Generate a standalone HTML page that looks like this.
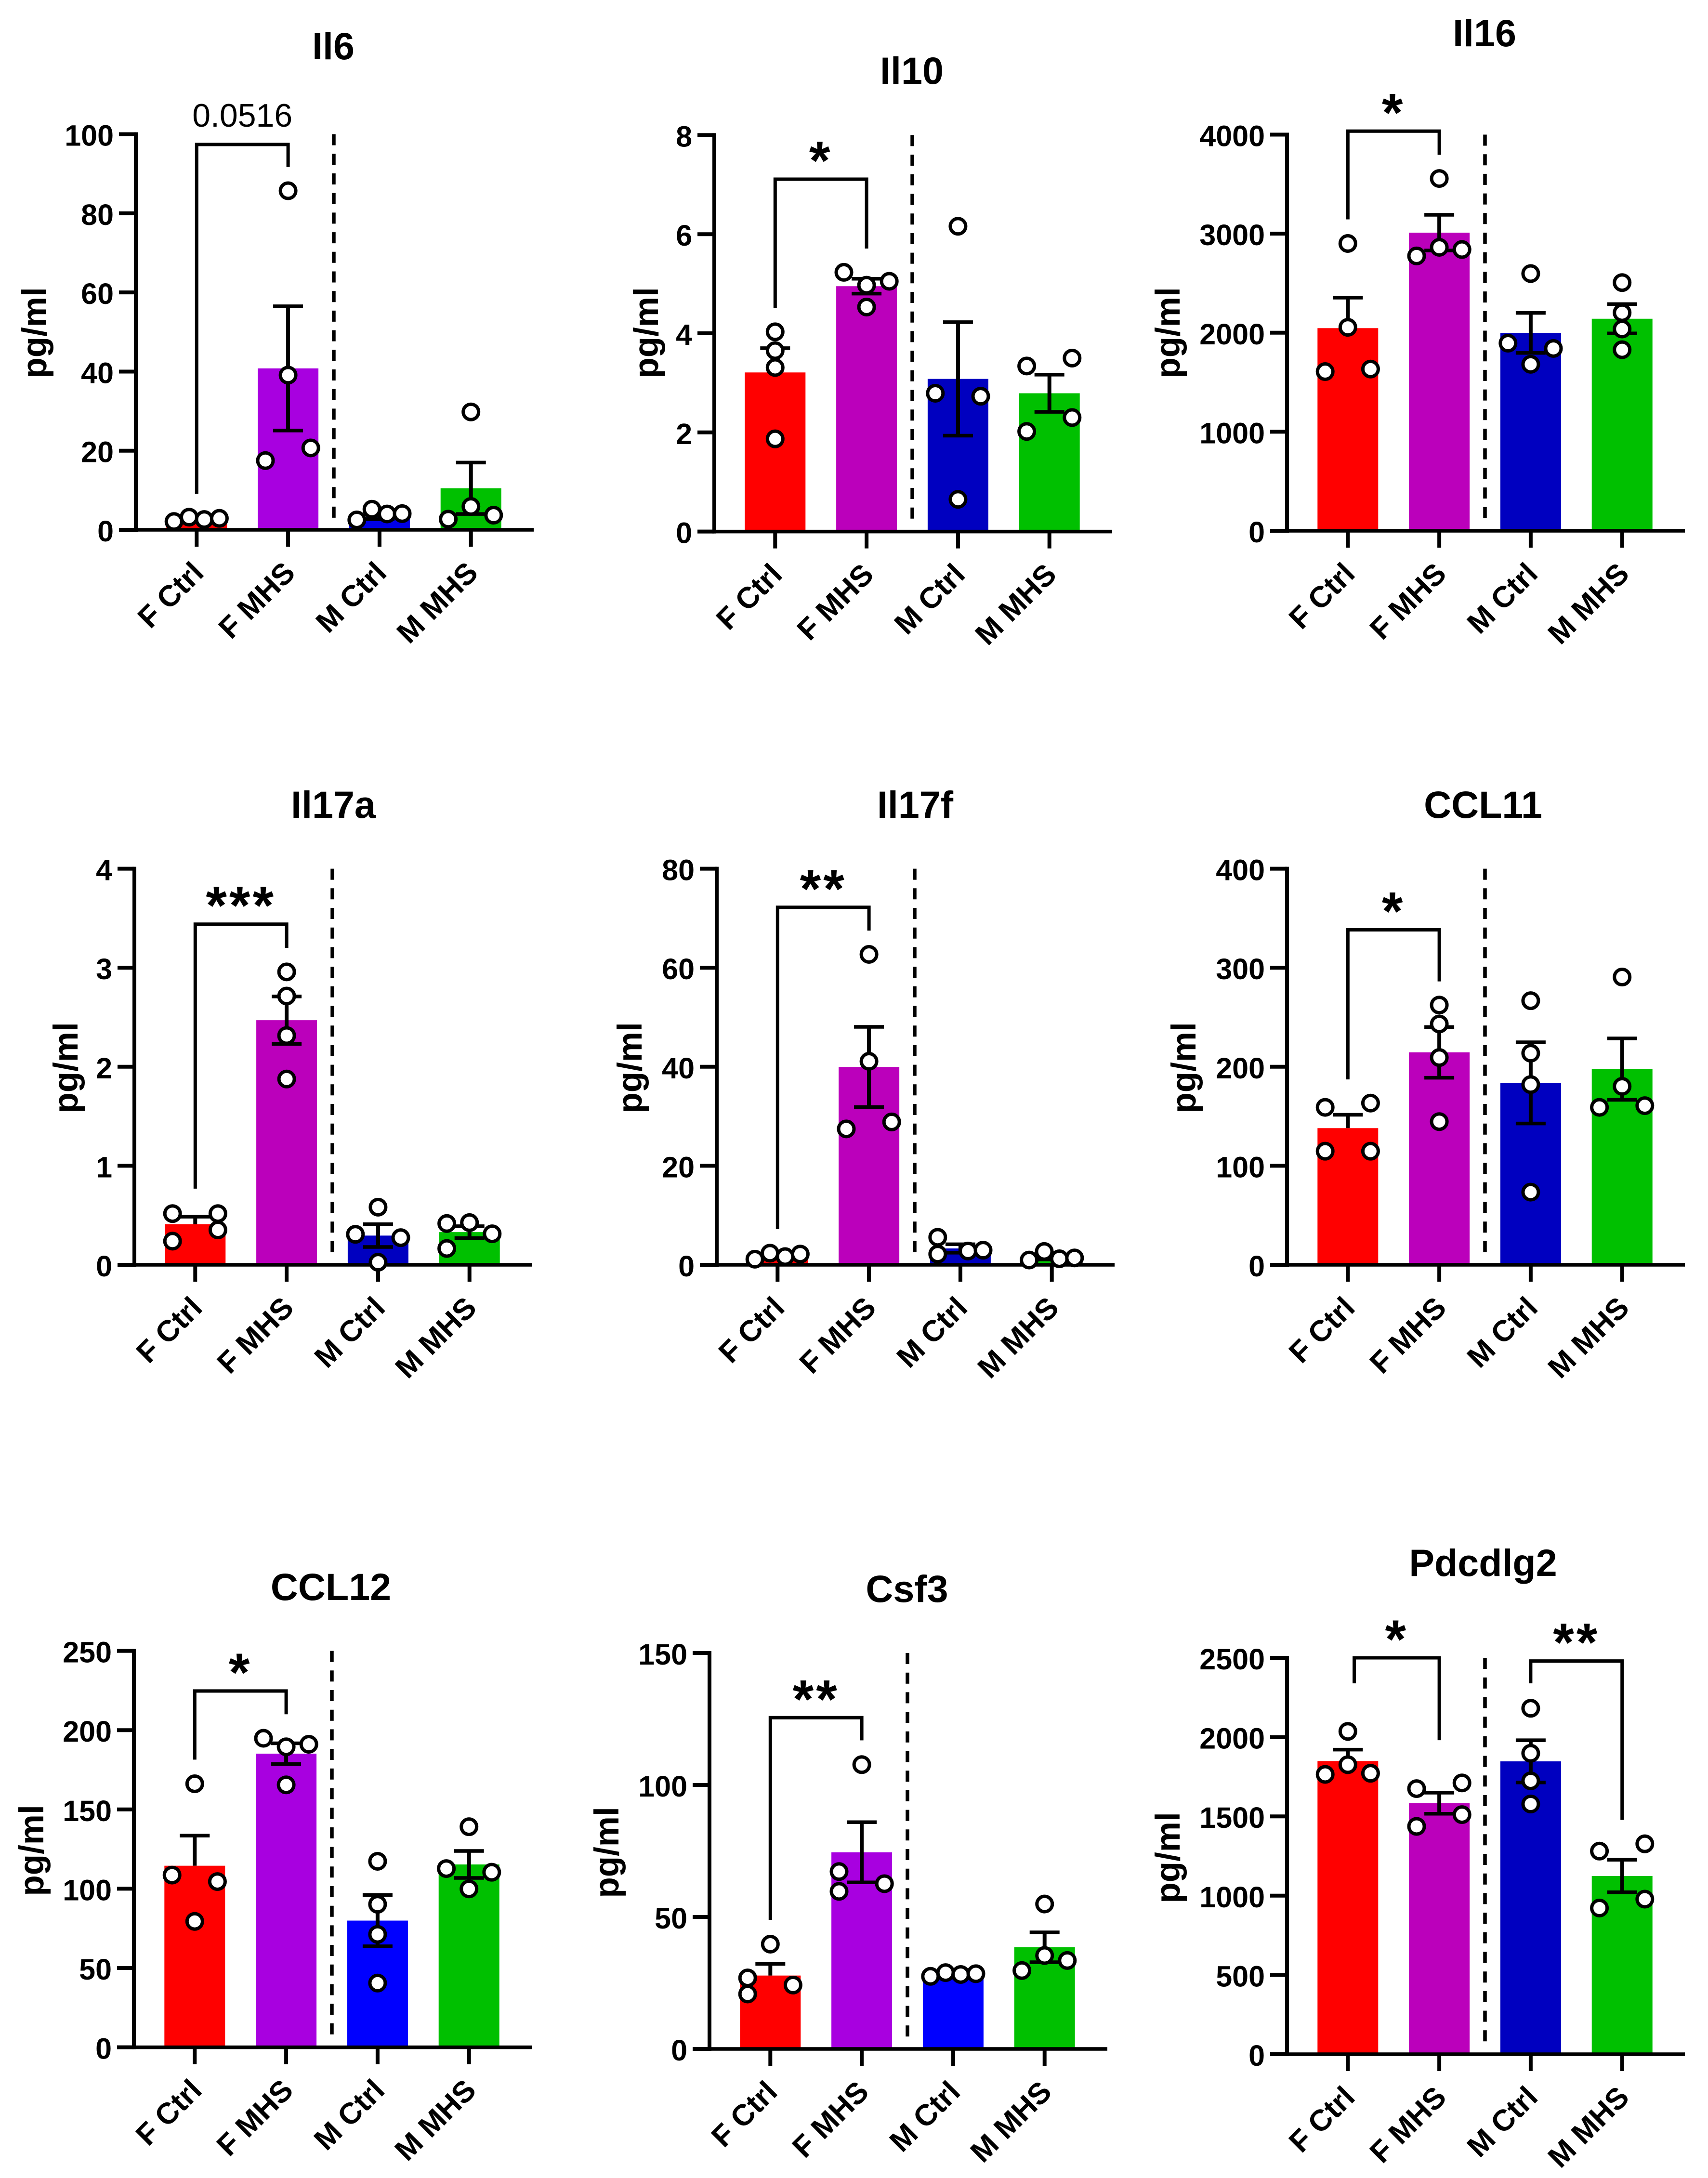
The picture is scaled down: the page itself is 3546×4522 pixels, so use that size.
<!DOCTYPE html>
<html lang="en">
<head>
<meta charset="utf-8">
<title>Cytokine bar charts</title>
<style>
html,body{margin:0;padding:0;background:#fff;}
svg{display:block;}
text{font-family:"Liberation Sans",Arial,sans-serif;fill:#000;font-weight:700;}
.title{font-size:79px;text-anchor:middle;}
.ytitle{font-size:71px;text-anchor:middle;}
</style>
</head>
<body>
<svg id="figure" xmlns="http://www.w3.org/2000/svg" width="3546" height="4522" viewBox="0 0 3546 4522">
<rect width="3546" height="4522" fill="#fff"/>
<g id="il6">
  <text class="title" x="692" y="123">Il6</text>
  <text class="ytitle" transform="translate(96 691) rotate(-90)">pg/ml</text>
</g>
<g id="il10">
  <text class="title" x="1893" y="174">Il10</text>
  <text class="ytitle" transform="translate(1366 691) rotate(-90)">pg/ml</text>
</g>
<g id="il16">
  <text class="title" x="3082" y="96">Il16</text>
  <text class="ytitle" transform="translate(2449 691) rotate(-90)">pg/ml</text>
</g>
<g id="il17a">
  <text class="title" x="692" y="1698">Il17a</text>
  <text class="ytitle" transform="translate(161 2217) rotate(-90)">pg/ml</text>
</g>
<g id="il17f">
  <text class="title" x="1900" y="1698">Il17f</text>
  <text class="ytitle" transform="translate(1332 2217) rotate(-90)">pg/ml</text>
</g>
<g id="ccl11">
  <text class="title" x="3079" y="1698">CCL11</text>
  <text class="ytitle" transform="translate(2482 2217) rotate(-90)">pg/ml</text>
</g>
<g id="ccl12">
  <text class="title" x="687" y="3322">CCL12</text>
  <text class="ytitle" transform="translate(90 3842) rotate(-90)">pg/ml</text>
</g>
<g id="csf3">
  <text class="title" x="1883" y="3326">Csf3</text>
  <text class="ytitle" transform="translate(1284 3846) rotate(-90)">pg/ml</text>
</g>
<g id="pdcdlg2">
  <text class="title" x="3079" y="3272">Pdcdlg2</text>
  <text class="ytitle" transform="translate(2449 3857) rotate(-90)">pg/ml</text>
</g>
</svg>
<script>
const categories = ['F Ctrl', 'F MHS', 'M Ctrl', 'M MHS'];

const il6Ticks = [0, 20, 40, 60, 80, 100];
const il6Means = [2.4, 40.8, 3.3, 10.5];
const il6Sems = [0.3, 15.7, 0.6, 6.5];
const il6Points = [[2.1, 3.2, 2.6, 2.9], [85.7, 39.1, 17.5, 20.7], [2.5, 5.2, 4, 4.1], [29.8, 5.9, 2.7, 3.7]];
const il6Columns = [[-3, -1, 1, 3], [0, 0, -3, 3], [-3, -1, 1, 3], [0, 0, -3, 3]];
const il6Brackets = [[0, 1, 97.4, 9.1, 91.7, '0.0516']];

const il10Ticks = [0, 2, 4, 6, 8];
const il10Means = [3.21, 4.95, 3.08, 2.79];
const il10Sems = [0.49, 0.15, 1.145, 0.375];
const il10Points = [[4.03, 3.65, 3.31, 1.87], [5.23, 5.05, 4.97, 4.53], [6.16, 2.79, 2.73, 0.65], [3.5, 3.34, 2.3, 2.02]];
const il10Columns = [[0, 0, 0, 0], [-3, 3, 0, 0], [0, -3, 3, 0], [3, -3, 3, -3]];
const il10Brackets = [[0, 1, 7.11, 4.51, 5.71, '*']];

const il16Ticks = [0, 1000, 2000, 3000, 4000];
const il16Means = [2046, 3010, 1998, 2141];
const il16Sems = [308, 180, 202, 148];
const il16Points = [[2901, 2054, 1607, 1633], [3557, 2862, 2775, 2840], [2597, 1894, 1841, 1681], [2506, 2202, 2037, 1828]];
const il16Columns = [[0, 0, -3, 3], [0, 0, -3, 3], [0, -3, 3, 0], [0, 0, 0, 0]];
const il16Brackets = [[0, 1, 4035, 3144, 3796, '*']];

const il17aTicks = [0, 1, 2, 3, 4];
const il17aMeans = [0.41, 2.47, 0.295, 0.33];
const il17aSems = [0.076, 0.24, 0.115, 0.06];
const il17aPoints = [[0.517, 0.517, 0.352, 0.239], [2.958, 2.714, 2.315, 1.876], [0.582, 0.308, 0.274, 0.026], [0.417, 0.426, 0.313, 0.165]];
const il17aColumns = [[-3, 3, 3, -3], [0, 0, 0, 0], [0, -3, 3, 0], [-3, 0, 3, -3]];
const il17aBrackets = [[0, 1, 3.44, 0.769, 3.2, '***']];

const il17fTicks = [0, 20, 40, 60, 80];
const il17fMeans = [1.8, 39.96, 3.3, 1.5];
const il17fSems = [0.3, 8.1, 0.85, 0.4];
const il17fPoints = [[1.13, 2.35, 1.65, 2.17], [62.7, 41.1, 27.45, 28.85], [5.56, 2.17, 2.78, 2.95], [0.96, 2.69, 1.22, 1.39]];
const il17fColumns = [[-3, -1, 1, 3], [0, 0, -3, 3], [-3, -3, 1, 3], [-3, -1, 1, 3]];
const il17fBrackets = [[0, 1, 72.2, 7.2, 67.5, '**']];

const ccl11Ticks = [0, 100, 200, 300, 400];
const ccl11Means = [138, 214.5, 183.7, 197.6];
const ccl11Sems = [13.5, 25.6, 41, 31];
const ccl11Points = [[159, 163.3, 114.7, 114.7], [262.3, 243.2, 209.3, 144.6], [266.7, 213.7, 182, 73.4], [290.6, 180.2, 159, 160.7]];
const ccl11Columns = [[-3, 3, -3, 3], [0, 0, 0, 0], [0, 0, 0, 0], [0, 0, -3, 3]];
const ccl11Brackets = [[0, 1, 338.3, 187.2, 286.2, '*']];

const ccl12Ticks = [0, 50, 100, 150, 200, 250];
const ccl12Means = [114.5, 185.2, 79.9, 115.3];
const ccl12Sems = [19, 6.5, 16.2, 8.5];
const ccl12Points = [[166.2, 108.6, 104.5, 79.4], [194.9, 191.1, 189.5, 165.5], [117.3, 90.2, 71.2, 40.5], [139.1, 112.7, 110.4, 99.9]];
const ccl12Columns = [[0, -3, 3, 0], [-3, 3, 0, 0], [0, 0, 0, 0], [0, -3, 3, 0]];
const ccl12Brackets = [[0, 1, 224.7, 181.4, 210, '*']];

const csf3Ticks = [0, 50, 100, 150];
const csf3Means = [27.8, 74.5, 27.5, 38.5];
const csf3Sems = [4.4, 11.4, 0.5, 5.65];
const csf3Points = [[39.7, 26.9, 24.2, 20.8], [107.7, 67.2, 62.6, 59.7], [27.5, 28.9, 28.2, 28.5], [54.9, 35.4, 29.7, 33.5]];
const csf3Columns = [[0, -3, 3, -3], [0, -3, 3, -3], [-3, -1, 1, 3], [0, 0, -3, 3]];
const csf3Brackets = [[0, 1, 125.5, 48.9, 116.9, '**']];

const pdcdlg2Ticks = [0, 500, 1000, 1500, 2000, 2500];
const pdcdlg2Means = [1849, 1583, 1847, 1124];
const pdcdlg2Sems = [72, 66.5, 133, 102.5];
const pdcdlg2Points = [[2036, 1826, 1765, 1772], [1675, 1711, 1511, 1437], [2182, 1898, 1724, 1578], [1327, 1281, 978, 922]];
const pdcdlg2Columns = [[0, 0, -3, 3], [-3, 3, 3, -3], [0, 0, 0, 0], [3, -3, 3, -3]];
const pdcdlg2Brackets = [[0.07, 1, 2500, 2339, 1980, '*'], [2, 3, 2480, 2339, 1478, '**']];

const RED = '#ff0000', MAGENTA = '#bb00bb', VIOLET = '#a800e0', NAVY = '#0000c0', BLUE = '#0000ff', GREEN = '#00c000';

const panels = [
  {id: 'il6', ticks: il6Ticks, means: il6Means, sems: il6Sems, points: il6Points, columns: il6Columns, brackets: il6Brackets, axisX: 282, top: 278.6, zero: 1100, fills: [RED, VIOLET, '#0000e6', GREEN]},
  {id: 'il10', ticks: il10Ticks, means: il10Means, sems: il10Sems, points: il10Points, columns: il10Columns, brackets: il10Brackets, axisX: 1483, top: 280.4, zero: 1103.6, fills: [RED, MAGENTA, NAVY, GREEN]},
  {id: 'il16', ticks: il16Ticks, means: il16Means, sems: il16Sems, points: il16Points, columns: il16Columns, brackets: il16Brackets, axisX: 2672, top: 279.5, zero: 1102, fills: [RED, MAGENTA, NAVY, GREEN]},
  {id: 'il17a', ticks: il17aTicks, means: il17aMeans, sems: il17aSems, points: il17aPoints, columns: il17aColumns, brackets: il17aBrackets, axisX: 279, top: 1803.6, zero: 2626, fills: [RED, MAGENTA, NAVY, GREEN]},
  {id: 'il17f', ticks: il17fTicks, means: il17fMeans, sems: il17fSems, points: il17fPoints, columns: il17fColumns, brackets: il17fBrackets, axisX: 1488, top: 1803.6, zero: 2626, fills: [RED, MAGENTA, NAVY, GREEN]},
  {id: 'ccl11', ticks: ccl11Ticks, means: ccl11Means, sems: ccl11Sems, points: ccl11Points, columns: ccl11Columns, brackets: ccl11Brackets, axisX: 2672, top: 1803.6, zero: 2626, fills: [RED, MAGENTA, NAVY, GREEN]},
  {id: 'ccl12', ticks: ccl12Ticks, means: ccl12Means, sems: ccl12Sems, points: ccl12Points, columns: ccl12Columns, brackets: ccl12Brackets, axisX: 278, top: 3427.6, zero: 4250.6, fills: [RED, VIOLET, BLUE, GREEN]},
  {id: 'csf3', ticks: csf3Ticks, means: csf3Means, sems: csf3Sems, points: csf3Points, columns: csf3Columns, brackets: csf3Brackets, axisX: 1473, top: 3432, zero: 4254, fills: [RED, VIOLET, BLUE, GREEN]},
  {id: 'pdcdlg2', ticks: pdcdlg2Ticks, means: pdcdlg2Means, sems: pdcdlg2Sems, points: pdcdlg2Points, columns: pdcdlg2Columns, brackets: pdcdlg2Brackets, axisX: 2672, top: 3442, zero: 4265, fills: [RED, MAGENTA, NAVY, GREEN]}
];

const NS = 'http://www.w3.org/2000/svg';
function make(parent, tag, props) {
  const el = document.createElementNS(NS, tag);
  for (const k in props) el.setAttribute(k, props[k]);
  parent.appendChild(el);
  return el;
}
function line(parent, x1, y1, x2, y2, width) {
  return make(parent, 'line', {x1: x1, y1: y1, x2: x2, y2: y2, stroke: '#000', 'stroke-width': width});
}

function drawPanel(p) {
  const root = document.getElementById(p.id);
  const maxTick = p.ticks[p.ticks.length - 1];
  const yScale = v => p.zero - (v / maxTick) * (p.zero - p.top);
  const xScale = i => p.axisX + 126.3 + i * 189.8;

  p.means.forEach((m, i) => {
    const bar = make(root, 'rect', {x: xScale(i) - 63, y: yScale(m), width: 126, height: p.zero - yScale(m), fill: p.fills[i]});
    
    
  });

  const yAxis = line(root, p.axisX, p.top - 4, p.axisX, p.zero + 4, 8);
  
  
  const xAxis = line(root, p.axisX - 35, p.zero, p.axisX + 826, p.zero, 7.5);
  
  

  p.ticks.forEach(t => {
    const tick = line(root, p.axisX - 35, yScale(t), p.axisX, yScale(t), 8);
    
    
    const label = make(root, 'text', {x: p.axisX - 46, y: yScale(t) + 24, 'text-anchor': 'end', 'font-size': 61});
    
    
    label.textContent = t;
  });

  categories.forEach((c, i) => {
    const tick = line(root, xScale(i), p.zero, xScale(i), p.zero + 35, 8);
    
    
    const lx = xScale(i) + 18;
    const ly = p.zero + 93;
    const label = make(root, 'text', {transform: 'translate(' + lx + ' ' + ly + ') rotate(-45)', 'text-anchor': 'end', 'font-size': 62});
    
    
    label.textContent = c;
  });

  const divider = line(root, p.axisX + 411, p.top, p.axisX + 411, p.zero - 20, 7.5);
  divider.setAttribute('stroke-dasharray', '23 17.7');
  
  

  p.means.forEach((m, i) => {
    const upper = yScale(m + p.sems[i]);
    const lower = i === 0 ? yScale(m) : yScale(m - p.sems[i]);
    const stem = line(root, xScale(i), upper, xScale(i), lower, 8);
    
    
    const capTop = line(root, xScale(i) - 31, upper, xScale(i) + 31, upper, 7.5);
    
    
    if (i !== 0) {
      const capLow = line(root, xScale(i) - 31, lower, xScale(i) + 31, lower, 7.5);
      
      
    }
  });

  p.points.forEach((group, i) => {
    group.forEach((v, j) => {
      const dot = make(root, 'circle', {cx: xScale(i) + p.columns[i][j] * 15.7, cy: yScale(v), r: 16, fill: '#fff', stroke: '#000', 'stroke-width': 7});
      
      
    });
  });

  p.brackets.forEach(b => {
    const x1 = xScale(b[0]);
    const x2 = xScale(b[1]);
    const yTop = yScale(b[2]);
    const path = make(root, 'polyline', {points: x1 + ',' + yScale(b[3]) + ' ' + x1 + ',' + yTop + ' ' + x2 + ',' + yTop + ' ' + x2 + ',' + yScale(b[4]), fill: 'none', stroke: '#000', 'stroke-width': 7});
    
    
    const isStars = b[5].charAt(0) === '*';
    const mid = (xScale(Math.round(b[0])) + x2) / 2 + (b[0] - Math.round(b[0])) * 189.8 / 2;
    const label = make(root, 'text', isStars
      ? {x: mid, y: yTop - 54 + 54, 'text-anchor': 'middle', 'font-size': 112, 'letter-spacing': 5}
      : {x: mid, y: yTop - 37, 'text-anchor': 'middle', 'font-size': 68});
    if (!isStars) label.style.fontWeight = '400';
    
    
    label.textContent = b[5];
  });
}

panels.forEach(drawPanel);
</script>
</body>
</html>
